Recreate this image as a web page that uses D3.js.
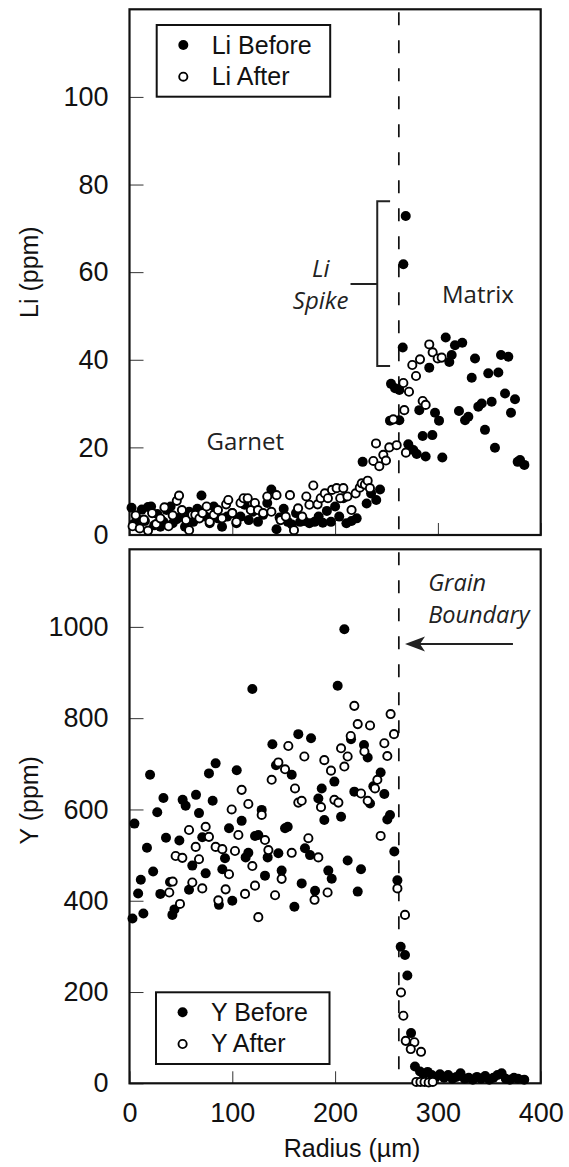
<!DOCTYPE html>
<html>
<head>
<meta charset="utf-8">
<script src="https://cdn.jsdelivr.net/npm/d3@7"></script>
<style>
  html, body { margin: 0; padding: 0; background: #fff; }
  svg { display: block; }
</style>
</head>
<body>
<svg id="chart" width="569" height="1167"></svg>
<script>
// ---------------- DATA ----------------
const xTicks = [0, 100, 200, 300, 400];
const liTicks = [0, 20, 40, 60, 80, 100];
const yTicks = [0, 200, 400, 600, 800, 1000];
const legendLi = ["Li Before", "Li After"];
const legendY = ["Y Before", "Y After"];

// Li before (filled) : [radius µm, Li ppm]
const liBefore = [
  [2,6.2],[4,2.5],[7,3.8],[9,1.8],[12,5.8],[15,3.2],[18,6.4],[21,6.5],[24,2.2],[27,4.8],
  [30,1.9],[33,3.0],[36,5.7],[40,6.5],[42,2.7],[46,3.6],[50,4.2],[54,1.9],[58,5.3],[62,3.0],
  [66,6.0],[70,9.0],[74,4.2],[78,2.7],[82,6.5],[86,3.8],[90,1.9],[95,4.2],[100,5.0],[104,2.7],
  [108,4.2],[112,6.9],[116,3.4],[120,5.3],[125,3.0],[130,4.6],[134,7.3],[138,10.4],[143,1.3],[146,4.0],
  [150,6.0],[154,3.0],[158,2.4],[162,5.0],[166,3.0],[170,3.2],[175,2.7],[180,3.0],[184,4.2],[188,2.8],
  [192,5.5],[196,3.0],[200,6.5],[204,4.2],[208,8.4],[211,2.7],[216,3.2],[221,3.8],[226.8,16.7],[230.7,7.2],
  [235,9.5],[240,8.0],[243.7,10.4],[254.4,34.5],[258.3,33.5],[262.5,33.1],[253.4,26.1],[262.5,26.2],
  [265.8,42.8],[266.4,61.8],[268.7,72.8],[271.2,20.7],[276.1,19.4],[279.4,18.5],[281.9,28.5],[285.2,22.6],
  [288.1,17.9],[291.6,38.2],[294.6,22.8],[297.2,27.9],[301.1,26.1],[304.3,17.7],[307.6,45.1],[311.1,39.5],
  [313.4,41.1],[316.6,43.3],[320.5,28.3],[323.7,43.9],[326.4,26.2],[329.6,27.0],[332.9,35.9],[336.1,40.3],
  [339.3,29.3],[342.6,30.0],[345.8,24.0],[349.0,36.9],[352.3,30.4],[355.5,19.9],[358.8,37.1],[361.4,41.1],
  [365.3,32.3],[368.5,40.7],[371.1,27.9],[375.0,31.0],[377.6,16.7],[379.9,17.1],[384.1,16.0]
];
// Li after (open)
const liAfter = [
  [3,2.0],[6,4.5],[10,1.5],[14,3.5],[18,1.0],[22,5.0],[26,2.5],[30,3.8],[34,6.3],[38,2.0],
  [42,4.5],[46,7.8],[48.2,9.0],[51,5.7],[55,3.4],[58,1.1],[61,4.6],[64,4.6],[68,3.8],[71,5.0],
  [75,6.5],[78,3.0],[82,4.6],[86,5.7],[90,3.8],[94,7.0],[96.1,8.0],[100,5.0],[104,3.0],[108,7.3],
  [111,8.4],[115,8.4],[118,5.7],[122,7.3],[125,5.7],[130,5.0],[134,8.8],[138,5.3],[143,9.1],[147,3.4],
  [152,4.2],[156.1,9.1],[160,1.1],[164,6.1],[168,4.2],[172,8.8],[175,6.9],[178.8,11.3],[183,7.0],[186,8.4],
  [190,9.5],[193,8.4],[197,10.3],[201.5,10.7],[205,8.4],[208,10.7],[212,8.8],[216,5.7],[220,9.5],[224,10.8],
  [225.9,11.8],[229,11.5],[231.7,12.4],[233.9,10.7],[237.2,16.9],[239.8,20.9],[243.0,15.7],[246.9,18.3],
  [249.5,17.0],[252.7,20.0],[256.6,26.4],[259.9,20.5],[266.4,34.7],[267.3,28.5],[268.9,18.8],[271.9,32.7],
  [275.1,38.8],[278.7,36.3],[282.6,40.1],[285.2,30.6],[288.1,29.7],[291.6,43.5],[294.9,41.7],[299.8,40.3],
  [303.7,40.5]
];
// Y before (filled) : [radius µm, Y ppm]
const yBefore = [
  [4.8,569],[2.9,361],[8.4,416],[11,446],[13.5,372],[17,516],[20,676],[23,464],[27,594],[30,415],
  [33,625],[35.5,538],[39.4,441],[41.7,369],[43.7,381],[48.5,532],[51.7,621],[54.6,608],[57.9,424],[61.1,477],
  [64.7,632],[67.6,592],[70.8,539],[74.1,460],[77.3,679],[80.9,619],[83.8,701],[87,391],[90.3,469],[92.9,493],
  [96.8,559],[100,400],[104.3,686],[109.1,575],[113,495],[115.6,505],[119.5,864],[122.1,542],[125.3,544],[128.6,599],
  [131.8,455],[134.4,495],[139,743],[142.5,697],[144.8,504],[148,466],[151.3,559],[153.9,562],[157.8,676],[160.4,387],
  [164.2,765],[167.5,438],[170.7,515],[175.6,500],[176.6,756],[180.5,422],[183.7,624],[187,646],[189.5,577],[193.4,466],
  [196.7,448],[199.3,661],[202.5,871],[205.8,584],[209,995],[212.2,488],[215.5,754],[218.7,639],[222,420],[225.2,469],
  [228.1,741],[231.7,714],[234,613],[237.2,651],[244.3,681],[247.9,634],[250.8,578],[253.4,588],[257.6,508],[260.6,445],
  [263.8,299],[268,281],[270.3,236],[273.9,110],[277.7,37],[282.6,26],[286,20],[290,25],[294,18],[298,14],
  [302,20],[306,12],[310,18],[314,10],[318,14],[322,22],[326,10],[330,12],[334,8],[338,14],
  [342,10],[346,16],[350,8],[354,12],[358,18],[362,22],[366,10],[370,8],[374,12],[378,10],[384,8]
];
// Y after (open)
const yAfter = [
  [38.7,418],[42,442],[44.9,498],[49.1,393],[51.4,494],[57.9,555],[61.1,440],[64.4,518],[67.6,491],[70.8,427],
  [74.1,562],[77.3,540],[83.8,518],[86.4,401],[90.3,513],[93.5,425],[96.8,458],[99.4,600],[102.6,509],[105.9,544],
  [109.1,643],[112.4,415],[115.6,612],[119.5,476],[122.1,433],[125.3,364],[128.6,588],[131.8,533],[135.1,511],[138.3,665],
  [141.6,412],[144.8,703],[148,448],[151.3,688],[154.5,739],[157.8,505],[161,646],[164.2,615],[167.5,619],[170.1,716],
  [174,537],[180,402],[183.7,495],[186.3,605],[189.5,708],[192.7,418],[196,685],[199.3,621],[203.2,615],[205.8,734],
  [209,694],[212.2,716],[215.2,761],[218.7,827],[222,787],[225.2,635],[228.5,727],[231.7,619],[234,784],[238.8,646],
  [241.1,665],[244.3,542],[247.9,745],[250.8,717],[254,809],[257.3,765],[260.6,427],[268,369],[264.1,199],[266.4,148],
  [268.7,93],[277.1,90],[273.6,75],[283.6,69],[279,3],[283,3],[287,3],[291,2],[295,3]
];

// ---------------- LAYOUT ----------------
const svg = d3.select("#chart");
const x = d3.scaleLinear().domain([0, 400]).range([129.5, 540.7]);
const yLi = d3.scaleLinear().domain([0, 120]).range([535, 9.3]);
const yY = d3.scaleLinear().domain([0, 1170]).range([1083.3, 549.3]);
const boundary = 262;

const helv = "'Liberation Sans', Arial, Helvetica, sans-serif";
const myriad = "'Open Sans', 'Noto Sans', sans-serif";

function panel(ys, ticks, showXLabels) {
  const g = svg.append("g");
  const ay = g.append("g").attr("transform", `translate(${x(0)},0)`)
    .call(d3.axisLeft(ys).tickValues(ticks).tickSize(-14).tickPadding(21).tickFormat(d3.format("d")));
  ay.select(".domain").remove();
  ay.selectAll(".tick line").attr("stroke", "#333").attr("stroke-width", 1);
  ay.selectAll(".tick text").attr("font-family", helv).attr("font-size", 27).attr("fill", "#111");
  const ax = g.append("g").attr("transform", `translate(0,${ys.range()[0]})`)
    .call(d3.axisBottom(x).tickValues(xTicks).tickSize(-12).tickPadding(20)
      .tickFormat(showXLabels ? d3.format("d") : () => ""));
  ax.select(".domain").remove();
  ax.selectAll(".tick line").attr("stroke", "#333").attr("stroke-width", 1);
  ax.selectAll(".tick text").attr("font-family", helv).attr("font-size", 27).attr("fill", "#111");
  g.append("rect")
    .attr("x", x(0)).attr("y", ys.range()[1])
    .attr("width", x(400) - x(0)).attr("height", ys.range()[0] - ys.range()[1])
    .attr("fill", "none").attr("stroke", "#111").attr("stroke-width", 2.2);
  g.append("line")
    .attr("x1", x(boundary)).attr("x2", x(boundary))
    .attr("y1", ys.range()[1] + 3).attr("y2", ys.range()[0])
    .attr("stroke", "#111").attr("stroke-width", 1.7)
    .attr("stroke-dasharray", "13,15");
  return g;
}

function points(g, data, ys, filled) {
  g.append("g").selectAll("circle").data(data).enter().append("circle")
    .attr("cx", d => x(d[0])).attr("cy", d => ys(d[1]))
    .attr("r", filled ? 5 : 4.1)
    .attr("fill", filled ? "#000" : "#fff")
    .attr("stroke", "#000")
    .attr("stroke-width", filled ? 0 : 1.9);
}

function legend(g, labels, bx, by) {
  const L = g.append("g");
  L.append("rect").attr("x", bx).attr("y", by).attr("width", 173.5).attr("height", 71.7)
    .attr("fill", "#fff").attr("stroke", "#111").attr("stroke-width", 2);
  L.append("circle").attr("cx", bx + 26.6).attr("cy", by + 20).attr("r", 5).attr("fill", "#000");
  L.append("circle").attr("cx", bx + 26.6).attr("cy", by + 51.7).attr("r", 4.1)
    .attr("fill", "#fff").attr("stroke", "#000").attr("stroke-width", 1.9);
  L.append("text").attr("x", bx + 55).attr("y", by + 28.5).text(labels[0])
    .attr("font-family", helv).attr("font-size", 25).attr("fill", "#111");
  L.append("text").attr("x", bx + 55).attr("y", by + 60).text(labels[1])
    .attr("font-family", helv).attr("font-size", 25).attr("fill", "#111");
}

function italicText(g, txt, px, py, anchor, size) {
  g.append("text").attr("x", px).attr("y", py).attr("text-anchor", anchor)
    .attr("font-family", myriad).attr("font-style", "italic").attr("font-size", size)
    .attr("fill", "#222").text(txt);
}

// ---- Top panel (Li)
const topG = panel(yLi, liTicks, false);
points(topG, liBefore, yLi, true);
points(topG, liAfter, yLi, false);
legend(topG, legendLi, 156.7, 25);

const br = { x: 241, x2: 253.5, xs: 215, y1: 76.2, y2: 38.6, ym: 57.3 };
topG.append("path")
  .attr("d", `M${x(br.x2)},${yLi(br.y1)} H${x(br.x)} V${yLi(br.y2)} H${x(br.x2)} M${x(br.x)},${yLi(br.ym)} H${x(br.xs)}`)
  .attr("fill", "none").attr("stroke", "#222").attr("stroke-width", 2);
italicText(topG, "Li", x(186), yLi(59), "middle", 24);
italicText(topG, "Spike", x(186), yLi(51.6), "middle", 24);
topG.append("text").attr("x", x(304)).attr("y", yLi(53)).attr("text-anchor", "start")
  .attr("font-family", myriad).attr("font-size", 24).attr("fill", "#222").text("Matrix");
topG.append("text").attr("x", x(75)).attr("y", yLi(19.5)).attr("text-anchor", "start")
  .attr("font-family", myriad).attr("font-size", 24).attr("fill", "#222").text("Garnet");

// ---- Bottom panel (Y)
const botG = panel(yY, yTicks, true);
points(botG, yBefore, yY, true);
points(botG, yAfter, yY, false);
legend(botG, legendY, 156, 992.3);

italicText(botG, "Grain", x(290.5), yY(1079), "start", 23.5);
italicText(botG, "Boundary", x(290.5), yY(1007.5), "start", 23.5);
const ar = { x1: 373, x2: 268, y: 962.5 };
botG.append("line").attr("x1", x(ar.x1)).attr("x2", x(ar.x2) + 12).attr("y1", yY(ar.y)).attr("y2", yY(ar.y))
  .attr("stroke", "#222").attr("stroke-width", 2);
const tx = x(ar.x2), ty = yY(ar.y);
botG.append("path").attr("d", `M${tx},${ty} L${tx + 20},${ty - 7.5} L${tx + 15},${ty} L${tx + 20},${ty + 7.5} Z`)
  .attr("fill", "#222");

// axis titles
svg.append("text").attr("transform", `translate(38,${(yLi.range()[0] + yLi.range()[1]) / 2}) rotate(-90)`)
  .attr("text-anchor", "middle").attr("font-family", helv).attr("font-size", 25).attr("fill", "#111").text("Li (ppm)");
svg.append("text").attr("transform", `translate(38,${(yY.range()[0] + yY.range()[1]) / 2 - 16}) rotate(-90)`)
  .attr("text-anchor", "middle").attr("font-family", helv).attr("font-size", 25).attr("fill", "#111").text("Y (ppm)");
svg.append("text").attr("x", 352).attr("y", 1157).attr("text-anchor", "middle")
  .attr("font-family", helv).attr("font-size", 25).attr("fill", "#111").text("Radius (µm)");
</script>
</body>
</html>
